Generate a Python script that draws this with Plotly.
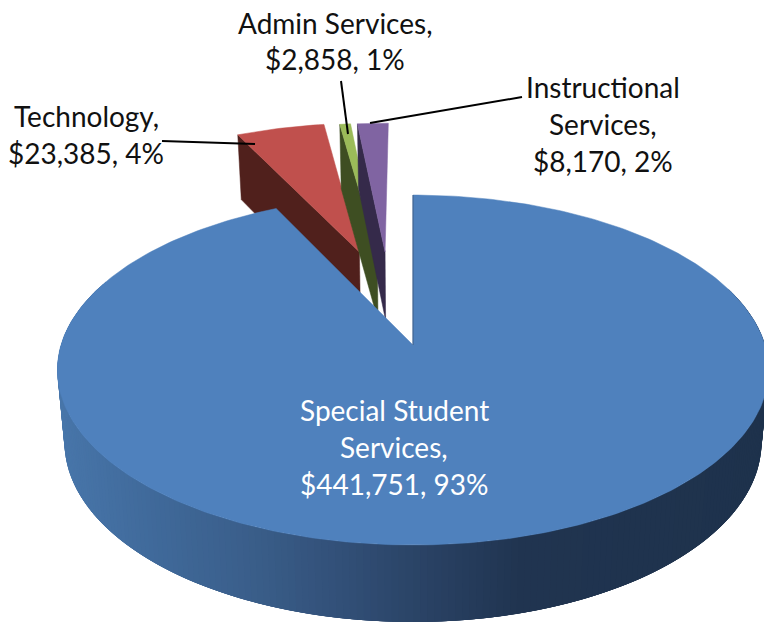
import math
import plotly.graph_objects as go

categories = ["Special Student Services", "Technology", "Admin Services", "Instructional Services"]
values = [441751, 23385, 2858, 8170]
explode_u = [0.0, -0.165, -0.110, -0.086]
explode_v = [0.0, -0.588, -0.588, -0.588]
face_colors = ["#4F81BD", "#C0504D", "#9BBB59", "#8064A2"]
wall_colors = [None, "#50201C", "#3E4E22", "#352A4A"]

label_lines = [
    ("Special Student", 394, 410, "white"), ("Services,", 394, 447, "white"), ("$441,751, 93%", 394, 484, "white"),
    ("Technology,", 86, 116, "#111111"), ("$23,385, 4%", 86, 153, "#111111"),
    ("Admin Services,", 335, 23, "#111111"), ("$2,858, 1%", 335, 59, "#111111"),
    ("Instructional", 603, 87, "#111111"), ("Services,", 603, 124, "#111111"), ("$8,170, 2%", 603, 161, "#111111"),
]
leaders = [([162, 255], [141, 144]), ([341, 348], [81, 134]), ([522, 370], [97, 123])]

grad_x = [58, 150, 250, 340, 400, 520, 764]
grad_rgb = [(72, 118, 170), (64, 106, 155), (58, 94, 138), (50, 80, 120), (44, 70, 106), (32, 52, 80), (30, 50, 76)]

CX, CY, R, RY, K, DEPTH, SHRINK = 413, 345, 352, 171.4, 0.143, 71.3, 0.02
W, H = 764, 622


def project(u, v, z=0):
    s = 1 / (1 - K * v)
    return CX + R * u * s * (1 - SHRINK * z), CY + RY * v * s + z * DEPTH * math.sqrt(s)


def rim(theta, du, dv, z=0):
    t = math.radians(theta)
    return project(du + math.sin(t), dv - math.cos(t), z)


def grad(x):
    for i in range(len(grad_x) - 1):
        if x <= grad_x[i + 1]:
            f = max(0, (x - grad_x[i]) / (grad_x[i + 1] - grad_x[i]))
            c = [round(a + (b - a) * f) for a, b in zip(grad_rgb[i], grad_rgb[i + 1])]
            return f"rgb({c[0]},{c[1]},{c[2]})"
    return f"rgb{grad_rgb[-1]}"


def poly(pts, color, width=0.5):
    return go.Scatter(x=[p[0] for p in pts] + [pts[0][0]], y=[p[1] for p in pts] + [pts[0][1]],
                      mode="lines", fill="toself", fillcolor=color,
                      line=dict(color=color, width=width), hoverinfo="skip", showlegend=False)


total = sum(values)
spans = [v / total * 360 for v in values]
ends = [spans[0]]
for sp in spans[1:]:
    ends.append(ends[-1] + sp)
starts = [0] + ends[:-1]

fig = go.Figure()

# small exploded slices, back to front: Technology, Admin, Instructional
for i in [1, 2, 3]:
    du, dv = explode_u[i], explode_v[i]
    a0, a1 = starts[i], ends[i]
    wall = [rim(a0, du, dv), project(du, dv), project(du, dv, 1), rim(a0, du, dv, 1)]
    fig.add_trace(poly(wall, wall_colors[i]))
    n = 16
    arc = [rim(a0 + (a1 - a0) * j / n, du, dv) for j in range(n + 1)]
    fig.add_trace(poly([project(du, dv)] + arc, face_colors[i]))

# side wall of the main slice: overlapping strips, painted so that each one
# reaches under the next and no background shows between them
step = 1.0
overlap = 3.0
th = 70.0
while th < 290:
    a, b = th, th + step
    mid = rim((a + b) / 2, 0, 0, 0.5)[0]
    q = [rim(a, 0, 0), rim(b + overlap, 0, 0), rim(b + overlap, 0, 0, 1), rim(a, 0, 0, 1)]
    fig.add_trace(poly(q, grad(mid), width=0))
    th += step

# top face of the main slice
n = 360
arc = [rim(starts[0] + (ends[0] - starts[0]) * j / n, 0, 0) for j in range(n + 1)]
fig.add_trace(poly([project(0, 0)] + arc, face_colors[0]))
edge = [rim(0, 0, 0), project(0, 0)]
fig.add_trace(go.Scatter(x=[p[0] for p in edge], y=[p[1] for p in edge], mode="lines",
                         line=dict(color="#3F5F88", width=1), hoverinfo="skip", showlegend=False))

for lx, ly in leaders:
    fig.add_trace(go.Scatter(x=lx, y=ly, mode="lines", line=dict(color="black", width=2),
                             hoverinfo="skip", showlegend=False))

for text, x, y, color in label_lines:
    fig.add_annotation(x=x, y=y, text=text, showarrow=False, xanchor="center", yanchor="middle",
                       font=dict(family="Lato", size=28, color=color))

fig.update_layout(width=W, height=H, margin=dict(l=0, r=0, t=0, b=0), autosize=False,
                  paper_bgcolor="white", plot_bgcolor="white", showlegend=False,
                  xaxis=dict(range=[0, W], visible=False, fixedrange=True),
                  yaxis=dict(range=[H, 0], visible=False, fixedrange=True))
fig.write_html("out.html", config={"displayModeBar": False},
               post_script="document.body.style.margin='0';document.body.style.overflow='hidden';")
